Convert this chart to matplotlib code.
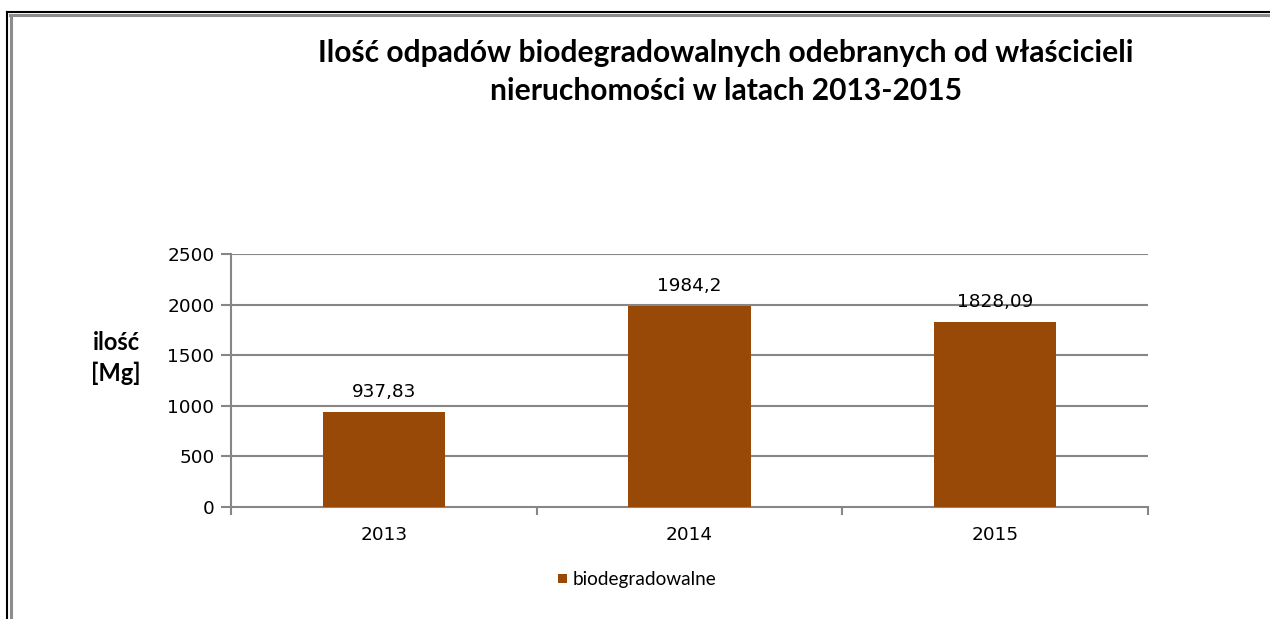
import matplotlib
matplotlib.use("Agg")
import matplotlib.pyplot as plt
from matplotlib.lines import Line2D
from matplotlib.patches import Rectangle

years = ["2013", "2014", "2015"]
values = [937.83, 1984.2, 1828.09]
value_labels = ["937,83", "1984,2", "1828,09"]
series_name = "biodegradowalne"
title = "Ilość odpadów biodegradowalnych odebranych od właścicieli\nnieruchomości w latach 2013-2015"
ylabel = "ilość\n[Mg]"
yticks = [0, 500, 1000, 1500, 2000, 2500]

W, H = 1270, 619
fig = plt.figure(figsize=(W / 100, H / 100), dpi=100)
fig.patch.set_facecolor("white")

bar_color = "#984807"
grid_color = "#868686"
fs = 13.3

ax = fig.add_axes([231 / W, 1 - 507 / H, (1148 - 231) / W, (507 - 254) / H])
x = list(range(len(years)))
ax.bar(x, values, width=0.4, color=bar_color, zorder=3)
ax.set_xlim(-0.5, 2.5)
ax.set_ylim(0, 2500)
ax.set_yticks(yticks)
ax.set_yticklabels([str(t) for t in yticks], fontsize=fs, family="DejaVu Sans")
for t in yticks[1:]:
    ax.axhline(t, color=grid_color, lw=1.5, zorder=1)
ax.tick_params(axis="y", length=7, width=1.5, color=grid_color, pad=5)
ax.set_xticks([-0.5, 0.5, 1.5, 2.5])
ax.set_xticklabels([])
ax.tick_params(axis="x", which="major", length=6, width=1.5, color=grid_color)
ax.set_xticks(x, minor=True)
ax.set_xticklabels(years, minor=True, fontsize=fs, family="DejaVu Sans")
ax.tick_params(axis="x", which="minor", length=0, pad=14)
for s in ["top", "right"]:
    ax.spines[s].set_visible(False)
for s in ["left", "bottom"]:
    ax.spines[s].set_color(grid_color)
    ax.spines[s].set_linewidth(1.5)

for xi, v, lab in zip(x, values, value_labels):
    ax.annotate(lab, (xi, v), xytext=(0, 8), textcoords="offset points",
                ha="center", va="bottom", fontsize=fs, family="DejaVu Sans")

fig.text(726 / W, 1 - 72 / H, title, ha="center", va="center",
         fontsize=21.6, fontweight="bold", family="Lato", linespacing=1.45)
fig.text(116 / W, 1 - 358 / H, ylabel, ha="center", va="center",
         fontsize=17, fontweight="bold", family="Lato", linespacing=1.4)

# legend
fig.add_artist(Rectangle((558 / W, 1 - 583 / H), 9 / W, 9 / H, transform=fig.transFigure,
                         facecolor=bar_color, edgecolor="none"))
fig.text(573 / W, 1 - 580 / H, series_name, ha="left", va="center",
         fontsize=13.7, family="Lato")

# frame
fig.add_artist(Line2D([6.5 / W, 6.5 / W], [0, 1 - 11.5 / H], transform=fig.transFigure, color="black", lw=1.5))
fig.add_artist(Line2D([6.5 / W, 1], [1 - 11.5 / H, 1 - 11.5 / H], transform=fig.transFigure, color="black", lw=1.5))
fig.add_artist(Line2D([10.5 / W, 10.5 / W], [0, 1 - 15 / H], transform=fig.transFigure, color="#8c8c8c", lw=2.2))
fig.add_artist(Line2D([10 / W, 1], [1 - 15 / H, 1 - 15 / H], transform=fig.transFigure, color="#8c8c8c", lw=2.2))

fig.savefig("out.png", dpi=100, facecolor="white")
